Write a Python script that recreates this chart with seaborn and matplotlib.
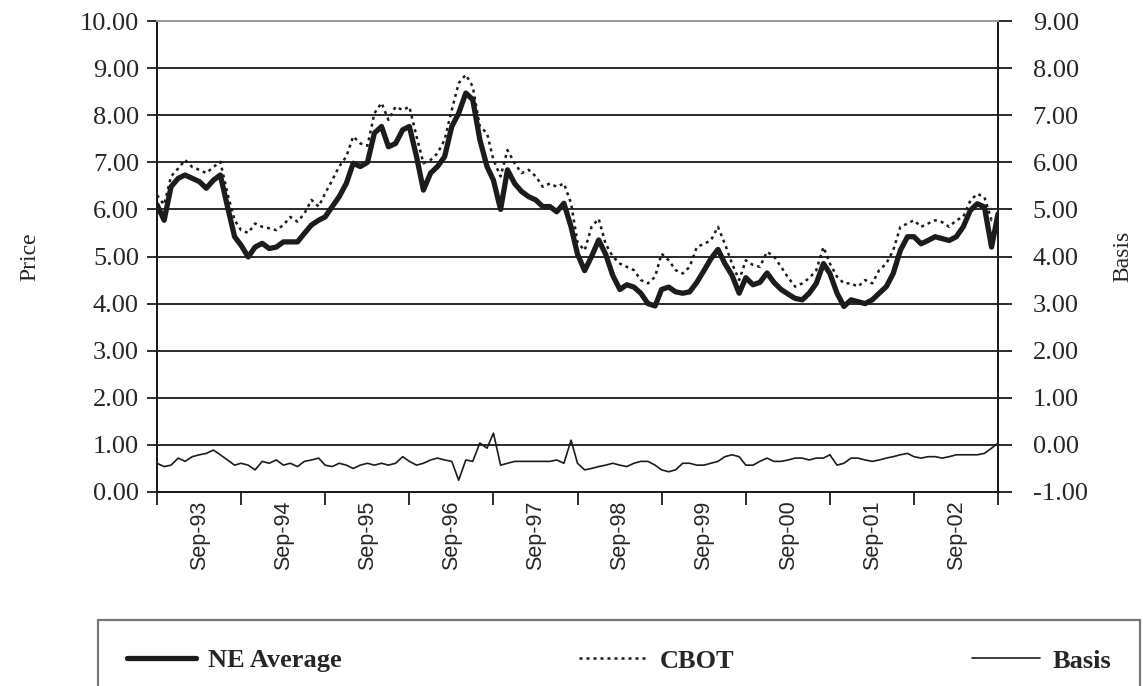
import matplotlib
matplotlib.use("Agg")
import matplotlib.pyplot as plt
import matplotlib.dates as mdates
from matplotlib.ticker import MultipleLocator, FormatStrFormatter
import pandas as pd
import seaborn as sns

# ---------------- data (monthly, Mar-1993 .. Mar-2003) ----------------
start_month = "1993-03-01"
n_months = 121

ne_average = [
    6.10, 5.77, 6.48, 6.66, 6.73, 6.66, 6.59, 6.45, 6.62, 6.73, 6.06, 5.42,
    5.24, 4.99, 5.20, 5.28, 5.17, 5.20, 5.31, 5.31, 5.31, 5.49, 5.67, 5.77,
    5.84, 6.06, 6.27, 6.55, 6.98, 6.91, 7.00, 7.62, 7.76, 7.33, 7.40, 7.69,
    7.76, 7.12, 6.41, 6.77, 6.91, 7.12, 7.76, 8.04, 8.47, 8.33, 7.48, 6.91,
    6.62, 6.00, 6.84, 6.55, 6.38, 6.27, 6.20, 6.06, 6.06, 5.95, 6.13, 5.63,
    5.05, 4.70, 5.00, 5.35, 5.05, 4.60, 4.30, 4.40, 4.35, 4.22, 4.00, 3.95,
    4.30, 4.35, 4.25, 4.22, 4.25, 4.45, 4.70, 4.95, 5.15, 4.85, 4.60, 4.22,
    4.55, 4.40, 4.45, 4.65, 4.45, 4.30, 4.20, 4.11, 4.08, 4.22, 4.43, 4.85,
    4.64, 4.22, 3.94, 4.08, 4.04, 4.00, 4.08, 4.22, 4.36, 4.64, 5.13, 5.42,
    5.42, 5.27, 5.34, 5.42, 5.38, 5.34, 5.42, 5.63, 5.98, 6.12, 6.05, 5.20,
    5.90,
]

cbot = [
    6.30, 6.10, 6.70, 6.87, 7.05, 6.90, 6.84, 6.77, 6.90, 7.01, 6.34, 5.77,
    5.56, 5.50, 5.70, 5.63, 5.60, 5.56, 5.67, 5.84, 5.74, 5.91, 6.20, 6.06,
    6.34, 6.62, 6.91, 7.12, 7.55, 7.40, 7.35, 8.04, 8.26, 7.90, 8.18, 8.11,
    8.18, 7.55, 6.98, 7.05, 7.19, 7.48, 8.11, 8.68, 8.86, 8.61, 7.76, 7.62,
    7.05, 6.70, 7.26, 6.98, 6.77, 6.84, 6.70, 6.48, 6.55, 6.48, 6.55, 6.13,
    5.30, 5.13, 5.63, 5.80, 5.27, 5.00, 4.85, 4.78, 4.71, 4.50, 4.43, 4.57,
    5.06, 4.92, 4.71, 4.64, 4.78, 5.20, 5.27, 5.34, 5.63, 5.27, 4.85, 4.50,
    4.92, 4.82, 4.78, 5.10, 5.00, 4.78, 4.55, 4.36, 4.43, 4.54, 4.71, 5.20,
    4.85, 4.57, 4.43, 4.43, 4.36, 4.50, 4.43, 4.71, 4.85, 5.13, 5.63, 5.70,
    5.77, 5.63, 5.70, 5.77, 5.73, 5.63, 5.77, 5.84, 6.19, 6.33, 6.26, 5.77,
    5.85,
]

basis = [
    -0.39, -0.46, -0.43, -0.28, -0.35, -0.25, -0.21, -0.18, -0.11, -0.21, -0.32, -0.43,
    -0.39, -0.43, -0.53, -0.35, -0.39, -0.32, -0.43, -0.39, -0.46, -0.35, -0.32, -0.28,
    -0.43, -0.46, -0.39, -0.43, -0.50, -0.43, -0.39, -0.43, -0.39, -0.43, -0.39, -0.25,
    -0.35, -0.43, -0.39, -0.32, -0.28, -0.32, -0.35, -0.75, -0.32, -0.35, 0.04, -0.07,
    0.25, -0.43, -0.39, -0.35, -0.35, -0.35, -0.35, -0.35, -0.35, -0.32, -0.39, 0.10,
    -0.39, -0.53, -0.50, -0.46, -0.43, -0.39, -0.43, -0.46, -0.39, -0.35, -0.35, -0.43,
    -0.53, -0.57, -0.53, -0.39, -0.39, -0.43, -0.43, -0.39, -0.35, -0.25, -0.21, -0.25,
    -0.43, -0.43, -0.35, -0.28, -0.35, -0.35, -0.32, -0.28, -0.28, -0.32, -0.28, -0.28,
    -0.21, -0.43, -0.39, -0.28, -0.28, -0.32, -0.35, -0.32, -0.28, -0.25, -0.21, -0.18,
    -0.25, -0.28, -0.25, -0.25, -0.28, -0.25, -0.21, -0.21, -0.21, -0.21, -0.18, -0.07,
    0.04,
]

series_names = ["NE Average", "CBOT", "Basis"]

# ---------------- figure ----------------
sns.set_theme(style="white")
plt.rcParams["font.family"] = ["Liberation Serif", "DejaVu Serif"]

W, H = 1143, 686
fig = plt.figure(figsize=(W / 100, H / 100), dpi=100)
left, right, top, bottom = 157, 998, 21, 492
ax = fig.add_axes([left / W, 1 - bottom / H, (right - left) / W, (bottom - top) / H])
ax2 = ax.twinx()

dates = pd.date_range(start_month, periods=n_months, freq="MS")
df = pd.DataFrame({"date": dates, "NE Average": ne_average, "CBOT": cbot, "Basis": basis})

ink = "#1c1c1c"
sns.lineplot(data=df, x="date", y="NE Average", ax=ax, color=ink, linewidth=3.8,
             legend=False, zorder=3)
sns.lineplot(data=df, x="date", y="CBOT", ax=ax, color=ink, linewidth=1.8,
             linestyle=(0, (1.2, 1.6)), legend=False, zorder=2)
sns.lineplot(data=df, x="date", y="Basis", ax=ax2, color=ink, linewidth=1.2,
             legend=False, zorder=3)

# y axes
ax.set_ylim(0, 10)
ax2.set_ylim(-1, 9)
for a in (ax, ax2):
    a.yaxis.set_major_locator(MultipleLocator(1))
    a.yaxis.set_major_formatter(FormatStrFormatter("%.2f"))
    a.set_xlabel("")
ax.set_ylabel("Price", fontsize=17)
ax2.set_ylabel("Basis", fontsize=17)
ax.yaxis.set_label_coords((40 - left) / (right - left), 0.5)
ax2.yaxis.set_label_coords((1112 - left) / (right - left), 0.5)

ax.tick_params(axis="y", which="major", direction="out", length=7, width=1.3,
               color=ink, pad=6, labelsize=19, left=True)
ax2.tick_params(axis="y", which="major", direction="out", length=10, width=1.3,
                color=ink, pad=15, labelsize=19, right=True)

# grid lines
ax.set_axisbelow(True)
ax.yaxis.grid(True, color="#2a2a2a", linewidth=1.4)
ax.xaxis.grid(False)
ax2.grid(False)

# x axis: ticks at year boundaries (March), labels at September
ax.set_xlim(dates[0], dates[-1])
ax.xaxis.set_major_locator(mdates.MonthLocator(bymonth=3))
ax.xaxis.set_major_formatter(plt.NullFormatter())
ax.xaxis.set_minor_locator(mdates.MonthLocator(bymonth=9))
ax.xaxis.set_minor_formatter(mdates.DateFormatter("%b-%y"))
ax.tick_params(axis="x", which="major", direction="out", length=9, width=1.3,
               color=ink, bottom=True)
ax.tick_params(axis="x", which="minor", length=0, pad=6, labelsize=15.5,
               labelrotation=90, bottom=True)
for lab in ax.xaxis.get_minorticklabels():
    lab.set_family(["Liberation Sans", "DejaVu Sans"])

# spines
for a in (ax, ax2):
    for s in ("left", "right", "bottom"):
        a.spines[s].set_color(ink)
        a.spines[s].set_linewidth(1.4)
    a.spines["top"].set_color("#9a9a9a")
    a.spines["top"].set_linewidth(1.4)

# legend
handles = [ax.get_lines()[0], ax.get_lines()[1], ax2.get_lines()[0]]
leg = fig.legend(handles, series_names, loc="upper left",
                 bbox_to_anchor=(98 / W, 1 - 620 / H, 1042 / W, 0.0),
                 mode="expand", ncol=3, frameon=True, fancybox=False,
                 borderaxespad=0.0, borderpad=1.1, handlelength=2.6,
                 handletextpad=0.45,
                 prop={"family": "Liberation Serif", "weight": "bold", "size": 19})
leg.get_frame().set_edgecolor("#555555")
leg.get_frame().set_linewidth(1.6)

fig.savefig("out.png", dpi=100, facecolor="white")
